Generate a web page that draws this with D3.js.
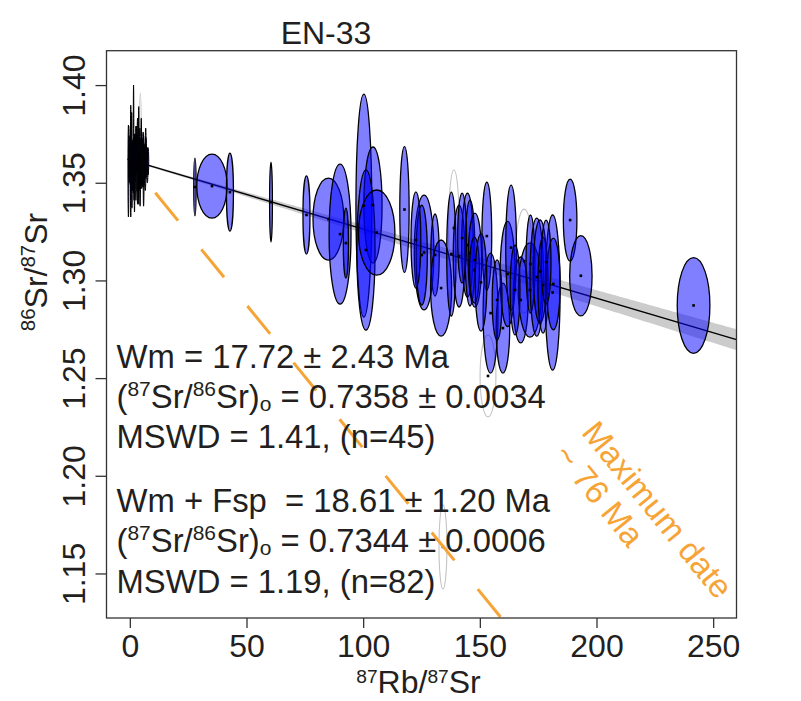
<!DOCTYPE html>
<html><head><meta charset="utf-8">
<script src="https://cdn.jsdelivr.net/npm/d3@7"></script>
<style>body{margin:0;background:#fff}svg{display:block}text{white-space:pre}</style>
</head><body><svg id="c" width="801" height="701"></svg>
<script>
// ---------- data ----------
const title = "EN-33";
const xTicks = [0, 50, 100, 150, 200, 250];
const yTicks = [1.15, 1.20, 1.25, 1.30, 1.35, 1.40];
const yTickLabels = ["1.15", "1.20", "1.25", "1.30", "1.35", "1.40"];
const xDomain = [-10, 260];
const yDomain = [1.1272, 1.4176];

// white mica ellipses: [87Rb/87Sr, 86Sr/87Sr, half-width x, half-width y]
const muscovite = [
  [27.9,1.3478,0.5,0.0148],[35.2,1.3483,6.5,0.0164],[42.9,1.3452,1.5,0.0200],
  [60.5,1.3401,0.6,0.0205],[75.7,1.3335,1.5,0.0200],[85.1,1.3314,6.6,0.0210],
  [90.1,1.3237,4.7,0.0358],[92.6,1.3191,1.1,0.0179],[100.3,1.3383,3.4,0.0571],
  [104.2,1.3386,3.9,0.0297],[101.2,1.3156,3.9,0.0410],[105.8,1.3245,7.8,0.0218],
  [117.7,1.3363,2.0,0.0322],[126.1,1.3143,4.2,0.0294],[125.1,1.3130,2.4,0.0256],
  [130.8,1.3130,1.8,0.0210],[133.4,1.2961,4.5,0.0246],[137.8,1.3135,2.0,0.0317],
  [141.1,1.3125,2.5,0.0261],[144.7,1.3181,2.5,0.0266],[145.8,1.3140,2.1,0.0271],
  [147.9,1.3104,2.9,0.0241],[153.0,1.3227,2.1,0.0276],[154.6,1.2833,3.2,0.0307],
  [159.9,1.2756,2.9,0.0230],[161.9,1.3033,3.2,0.0269],[163.4,1.3168,2.3,0.0320],
  [167.5,1.2900,3.2,0.0220],[171.5,1.2951,5.0,0.0241],[171.7,1.3084,1.9,0.0251],
  [174.4,1.3017,2.9,0.0302],[175.8,1.3046,2.9,0.0264],[177.1,1.2976,2.2,0.0246],
  [181.2,1.2938,3.2,0.0397],[181.5,1.2982,2.9,0.0235],[188.7,1.3309,2.9,0.0210],
  [193.3,1.3024,4.8,0.0205],[241.6,1.2872,7.0,0.0245],[147.7,1.3053,2.1,0.0169],
  [142.4,1.3217,1.9,0.0230],[157.4,1.2900,2.1,0.0205],[165.1,1.2951,2.1,0.0230],
  [178.4,1.3094,2.1,0.0215],[122.6,1.3207,2.1,0.0246],[150.5,1.2990,2.5,0.0250]
];

// feldspar ellipses near the origin
const feldspar = [
  [-0.6,1.3560,0.2,0.0235],[-0.3,1.3620,0.3,0.0120],[0.0,1.3610,0.3,0.0080],
  [0.4,1.3611,0.15,0.0286],[0.2,1.3640,0.2,0.0150],[0.6,1.3600,0.3,0.0100],
  [0.8,1.3660,0.15,0.0200],[1.6,1.3724,0.12,0.0276],[1.2,1.3590,0.2,0.0130],
  [1.5,1.3620,0.2,0.0090],[1.8,1.3570,0.15,0.0160],[2.2,1.3630,0.15,0.0120],
  [2.6,1.3600,0.15,0.0190],[3.1,1.3601,0.15,0.0145],[3.6,1.3568,0.15,0.0125],
  [3.3,1.3610,0.2,0.0220],[4.0,1.3560,0.15,0.0100],[4.3,1.3630,0.2,0.0150],
  [4.6,1.3590,0.2,0.0120],[4.9,1.3660,0.15,0.0170],[5.1,1.3600,0.3,0.0130],
  [5.4,1.3570,0.2,0.0090],[5.7,1.3620,0.3,0.0140],[6.0,1.3590,0.3,0.0110],
  [6.3,1.3610,0.35,0.0080],[6.6,1.3580,0.3,0.0120],[6.9,1.3630,0.3,0.0100],
  [7.2,1.3600,0.35,0.0070],[7.5,1.3590,0.3,0.0090],[7.8,1.3610,0.3,0.0070],
  [2.0,1.3550,0.15,0.0200],[3.8,1.3640,0.12,0.0250],[5.9,1.3560,0.2,0.0180],
  [0.9,1.3530,0.15,0.0160],[6.8,1.3650,0.2,0.0130],[4.4,1.3520,0.15,0.0140],
  [2.9,1.3670,0.15,0.0120]
];

// rejected (grey, unfilled) ellipses
const rejected = [
  [4.5,1.3719,0.4,0.0240],[138.9,1.3268,2.3,0.0297],[169.0,1.3099,3.8,0.0266],
  [153.5,1.2511,3.4,0.0210],[134.2,1.1636,1.7,0.0215]
];

// isochron fit (Wm + Fsp)
const isoIntercept = 1.3617, isoSlope = -0.000354;
const isoSeIntercept = 0.0005, isoSeSlope = 0.0000205;
const isoRange = [-1, 260];

// maximum-date reference line
const maxDateStart = [10.9, 1.3449];
const maxDateSlope = -0.001468;
const maxDateLabelAt = [193.1, 1.2219];
const maxDateLabel = ["Maximum date", "~ 76 Ma"];

// annotation blocks: segments [text, kind]
const statLines = [
  [["Wm = 17.72 ± 2.43 Ma",""]],
  [["(",""],["87","sup"],["Sr/",""],["86","sup"],["Sr)",""],["o","sub"],[" = 0.7358 ± 0.0034",""]],
  [["MSWD = 1.41, (n=45)",""]],
  [["Wm + Fsp  = 18.61 ± 1.20 Ma",""]],
  [["(",""],["87","sup"],["Sr/",""],["86","sup"],["Sr)",""],["o","sub"],[" = 0.7344 ± 0.0006",""]],
  [["MSWD = 1.19, (n=82)",""]]
];
const statBaselines = [367.5, 408, 448, 512, 552, 593];
const xLabel = [["87","sup"],["Rb/",""],["87","sup"],["Sr",""]];
const yLabel = [["86","sup"],["Sr/",""],["87","sup"],["Sr",""]];

// ---------- drawing ----------
const FONT = "'Liberation Sans', Arial, Helvetica, sans-serif";
const INK = "#231f20";
const ORANGE = "#f7a437";
const L = 106.5, R = 736.5, T = 50.7, B = 618;

const svg = d3.select("#c");
const x = d3.scaleLinear().domain(xDomain).range([L, R]);
const y = d3.scaleLinear().domain(yDomain).range([B, T]);

svg.append("defs").append("clipPath").attr("id","clip")
  .append("rect").attr("x",L).attr("y",T).attr("width",R-L).attr("height",B-T);

function rich(sel, segs, size, supShift = 0.36, supScale = 0.64){
  let shift = 0;
  segs.forEach(([t,k])=>{
    const target = k==="sup" ? -supShift*size : k==="sub" ? 0.08*size : 0;
    sel.append("tspan").attr("dy", target-shift)
      .attr("font-size", k ? size*supScale : size).text(t);
    shift = target;
  });
}

const plot = svg.append("g").attr("clip-path","url(#clip)");

// confidence band
const xs = d3.range(isoRange[0], isoRange[1]+0.1, 1);
const fit = v => isoIntercept + isoSlope*v;
const hw = v => Math.sqrt(isoSeIntercept*isoSeIntercept + (v*isoSeSlope)*(v*isoSeSlope));
plot.append("path")
  .attr("d", d3.area().x(v=>x(v)).y0(v=>y(fit(v)-hw(v))).y1(v=>y(fit(v)+hw(v)))(xs))
  .attr("fill","#cccccc");
plot.append("line")
  .attr("x1", x(isoRange[0])).attr("y1", y(fit(isoRange[0])))
  .attr("x2", x(isoRange[1])).attr("y2", y(fit(isoRange[1])))
  .attr("stroke","#000").attr("stroke-width",1.3);

// annotation text
const ann = svg.append("g").attr("font-family",FONT).attr("fill",INK);
statLines.forEach((segs,i)=>{
  const t = ann.append("text").attr("x",116.5).attr("y",statBaselines[i]);
  rich(t, segs, 32.8);
});

// ellipses
function drawEllipses(data, fill, stroke, sw){
  plot.append("g").selectAll("ellipse").data(data).join("ellipse")
    .attr("cx", d=>x(d[0])).attr("cy", d=>y(d[1]))
    .attr("rx", d=>Math.max(0.25, x(d[0]+d[2])-x(d[0])))
    .attr("ry", d=>y(d[1]-d[3])-y(d[1]))
    .attr("fill", fill).attr("stroke", stroke).attr("stroke-width", sw);
}
drawEllipses(rejected, "none", "#c4c4c4", 1.1);
drawEllipses(feldspar, "rgba(0,0,255,0.5)", "#000", 1.0);
drawEllipses(muscovite, "rgba(0,0,255,0.5)", "#000", 1.3);

// center dots
plot.append("g").selectAll("rect").data(muscovite.concat(rejected)).join("rect")
  .attr("x", d=>x(d[0])-1.3).attr("y", d=>y(d[1])-1.3)
  .attr("width",2.6).attr("height",2.6).attr("fill","#000");

// maximum date dashed line
const yEnd = yDomain[0];
const xEnd = maxDateStart[0] + (yEnd - maxDateStart[1]) / maxDateSlope;
plot.append("line")
  .attr("x1", x(maxDateStart[0])).attr("y1", y(maxDateStart[1]))
  .attr("x2", x(xEnd)).attr("y2", y(yEnd))
  .attr("stroke", ORANGE).attr("stroke-width", 3)
  .attr("stroke-dasharray", "36,37");

// maximum date label
const ang = Math.atan2(y(maxDateStart[1]+maxDateSlope*10)-y(maxDateStart[1]), x(maxDateStart[0]+10)-x(maxDateStart[0]))*180/Math.PI;
const ml = svg.append("text").attr("font-family",FONT).attr("font-size",33).attr("fill",ORANGE)
  .attr("transform",`translate(${x(maxDateLabelAt[0])},${y(maxDateLabelAt[1])}) rotate(${ang})`);
maxDateLabel.forEach((s,i)=> ml.append("tspan").attr("x",0).attr("dy", i? 36:0).text(s));

// frame
svg.append("rect").attr("x",L).attr("y",T).attr("width",R-L).attr("height",B-T)
  .attr("fill","none").attr("stroke","#333").attr("stroke-width",1.3);

// x axis
const xa = svg.append("g").attr("transform",`translate(0,${B})`)
  .call(d3.axisBottom(x).tickValues(xTicks).tickSize(10).tickSizeOuter(0).tickPadding(6).tickFormat(d3.format("d")));
xa.select(".domain").remove();
xa.selectAll("line").attr("stroke","#333").attr("stroke-width",1.3);
xa.selectAll("text").attr("font-family",FONT).attr("font-size",32).attr("fill",INK);

// y axis
const ya = svg.append("g").attr("transform",`translate(${L},0)`)
  .call(d3.axisLeft(y).tickValues(yTicks).tickSize(11).tickSizeOuter(0).tickFormat((d,i)=>yTickLabels[i]));
ya.select(".domain").remove();
ya.selectAll("line").attr("stroke","#333").attr("stroke-width",1.3);
ya.selectAll("text").attr("font-family",FONT).attr("font-size",32).attr("fill",INK)
  .attr("x",null).attr("dy",null).attr("text-anchor","middle")
  .attr("transform","translate(-21.5,0) rotate(-90)");

// titles
svg.append("text").attr("x",326).attr("y",44).attr("text-anchor","middle")
  .attr("font-family",FONT).attr("font-size",32).attr("fill",INK).text(title);
const xl = svg.append("text").attr("x",(L+R)/2 - 3).attr("y",693).attr("text-anchor","middle")
  .attr("font-family",FONT).attr("fill",INK);
rich(xl, xLabel, 32, 0.3, 0.6);
const yl = svg.append("text").attr("text-anchor","middle")
  .attr("font-family",FONT).attr("fill",INK)
  .attr("transform","translate(47,272) rotate(-90)");
rich(yl, yLabel, 32);
</script></body></html>
